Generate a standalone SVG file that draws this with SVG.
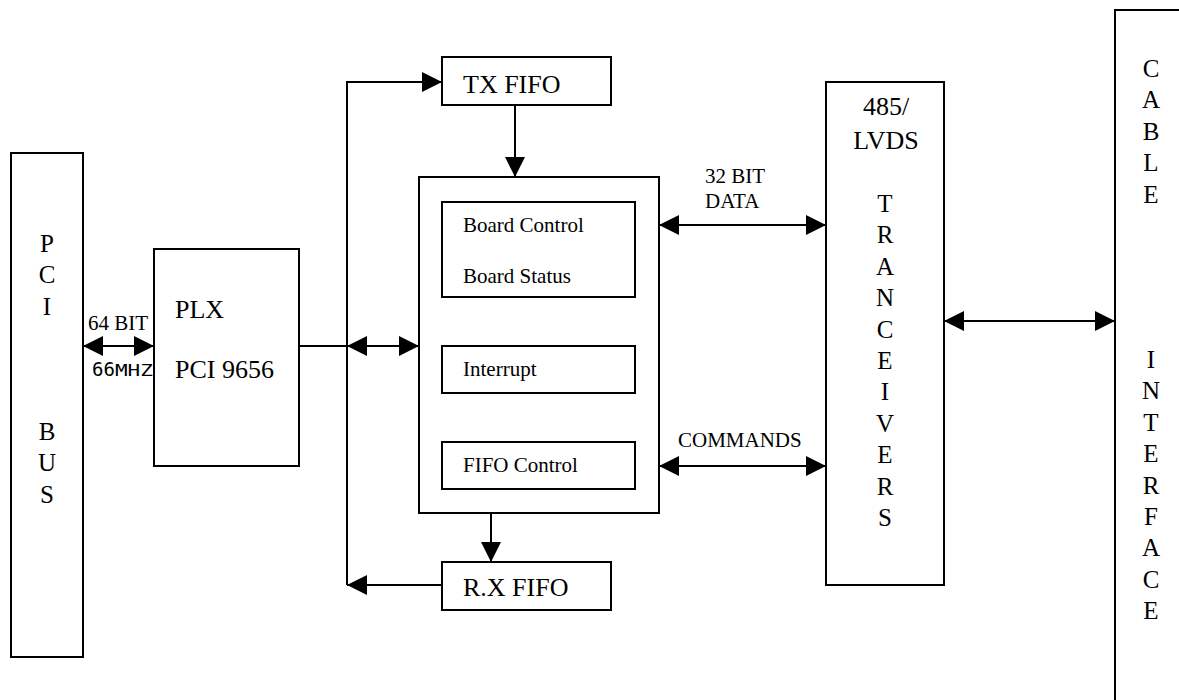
<svg xmlns="http://www.w3.org/2000/svg" width="1179" height="700" viewBox="0 0 1179 700">
  <style>
    .box { fill: #ffffff; stroke: #000000; stroke-width: 2; }
    .big { font-family: "Liberation Serif", "Times New Roman", serif; font-size: 26px; fill: #000000; }
    .let { font-family: "Liberation Serif", "Times New Roman", serif; font-size: 25px; fill: #000000; text-anchor: middle; }
    .sm { font-family: "Liberation Serif", "Times New Roman", serif; font-size: 21px; fill: #000000; }
    .mono { font-family: "DejaVu Sans Mono", "Liberation Mono", monospace; fill: #000000; }
    .wire { fill: none; stroke: #000000; stroke-width: 2; }
  </style>
  <defs>
    <marker id="ah" markerUnits="userSpaceOnUse" markerWidth="20" markerHeight="20" refX="20" refY="10" orient="auto-start-reverse" viewBox="0 0 20 20">
      <path d="M0,0 L20,10 L0,20 Z" fill="#000000"/>
    </marker>
  </defs>
  <rect width="1179" height="700" fill="#ffffff"/>

  <g id="pci-bus">
    <rect class="box" x="11" y="153" width="72" height="504"/>
    <text class="let" x="47" y="252">P</text>
    <text class="let" x="47" y="283.4">C</text>
    <text class="let" x="47" y="314.8">I</text>
    <text class="let" x="47" y="440">B</text>
    <text class="let" x="47" y="471.4">U</text>
    <text class="let" x="47" y="502.8">S</text>
  </g>

  <g id="plx">
    <rect class="box" x="154" y="249" width="145" height="217"/>
    <text class="big" x="175" y="318">PLX</text>
    <text class="big" x="175" y="378">PCI 9656</text>
  </g>

  <g id="tx-fifo">
    <rect class="box" x="442" y="57" width="169" height="48"/>
    <text class="big" x="463" y="93">TX FIFO</text>
  </g>

  <g id="rx-fifo">
    <rect class="box" x="442" y="562" width="169" height="48"/>
    <text class="big" x="463" y="596">R.X FIFO</text>
  </g>

  <g id="controller">
    <rect class="box" x="419" y="177" width="240" height="336"/>
    <g id="board">
      <rect class="box" x="442" y="202" width="193" height="95"/>
      <text class="sm" x="463" y="232">Board Control</text>
      <text class="sm" x="463" y="283">Board Status</text>
    </g>
    <g id="interrupt">
      <rect class="box" x="442" y="346" width="193" height="47"/>
      <text class="sm" x="463" y="376">Interrupt</text>
    </g>
    <g id="fifo-control">
      <rect class="box" x="442" y="442" width="193" height="47"/>
      <text class="sm" x="463" y="472">FIFO Control</text>
    </g>
  </g>

  <g id="transceivers">
    <rect class="box" x="826" y="82" width="118" height="503"/>
    <text class="big" x="886" y="115" text-anchor="middle">485/</text>
    <text class="big" x="886" y="149" text-anchor="middle">LVDS</text>
    <text class="let" x="885" y="212">T</text>
    <text class="let" x="885" y="243.4">R</text>
    <text class="let" x="885" y="274.8">A</text>
    <text class="let" x="885" y="306.2">N</text>
    <text class="let" x="885" y="337.6">C</text>
    <text class="let" x="885" y="369">E</text>
    <text class="let" x="885" y="400.4">I</text>
    <text class="let" x="885" y="431.8">V</text>
    <text class="let" x="885" y="463.2">E</text>
    <text class="let" x="885" y="494.6">R</text>
    <text class="let" x="885" y="526">S</text>
  </g>

  <g id="cable-interface">
    <path class="wire" d="M1179,10 H1115 V700"/>
    <text class="let" x="1151" y="77">C</text>
    <text class="let" x="1151" y="108.4">A</text>
    <text class="let" x="1151" y="139.8">B</text>
    <text class="let" x="1151" y="171.2">L</text>
    <text class="let" x="1151" y="202.6">E</text>
    <text class="let" x="1151" y="368">I</text>
    <text class="let" x="1151" y="399.4">N</text>
    <text class="let" x="1151" y="430.8">T</text>
    <text class="let" x="1151" y="462.2">E</text>
    <text class="let" x="1151" y="493.6">R</text>
    <text class="let" x="1151" y="525">F</text>
    <text class="let" x="1151" y="556.4">A</text>
    <text class="let" x="1151" y="587.8">C</text>
    <text class="let" x="1151" y="619.2">E</text>
  </g>

  <g id="connectors">
    <line class="wire" x1="83" y1="346" x2="154" y2="346" marker-start="url(#ah)" marker-end="url(#ah)"/>
    <line class="wire" x1="299" y1="346" x2="347" y2="346"/>
    <line class="wire" x1="347" y1="346" x2="419" y2="346" marker-start="url(#ah)" marker-end="url(#ah)"/>
    <path class="wire" d="M347,585 V82 H442" marker-end="url(#ah)"/>
    <line class="wire" x1="442" y1="585" x2="347" y2="585" marker-end="url(#ah)"/>
    <line class="wire" x1="515" y1="105" x2="515" y2="177" marker-end="url(#ah)"/>
    <line class="wire" x1="491" y1="513" x2="491" y2="562" marker-end="url(#ah)"/>
    <line class="wire" x1="659" y1="225" x2="826" y2="225" marker-start="url(#ah)" marker-end="url(#ah)"/>
    <line class="wire" x1="659" y1="466" x2="826" y2="466" marker-start="url(#ah)" marker-end="url(#ah)"/>
    <line class="wire" x1="944" y1="321" x2="1115" y2="321" marker-start="url(#ah)" marker-end="url(#ah)"/>
  </g>

  <g id="labels">
    <text class="sm" x="88" y="330">64 BIT</text>
    <text class="mono" x="92" y="376"><tspan font-size="19">66</tspan><tspan font-size="16" textLength="38" lengthAdjust="spacingAndGlyphs">MHZ</tspan></text>
    <text class="sm" x="705" y="183">32 BIT</text>
    <text class="sm" x="705" y="208">DATA</text>
    <text class="sm" x="678" y="447">COMMANDS</text>
  </g>
</svg>
